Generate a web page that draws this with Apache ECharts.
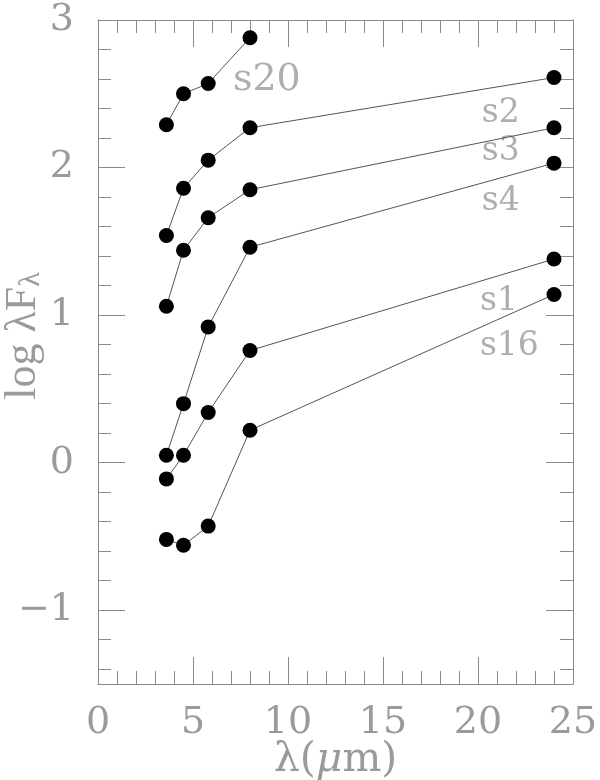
<!DOCTYPE html>
<html>
<head>
<meta charset="utf-8">
<script src="https://cdn.jsdelivr.net/npm/echarts@6/dist/echarts.min.js"></script>
<style>html,body{margin:0;padding:0;background:#fff}#c{width:600px;height:780px}</style>
</head>
<body>
<div id="c"></div>
<script>
// Wavelengths (micron)
const wavelengths = [3.6, 4.5, 5.8, 8.0, 24];
// log lambda F_lambda per source
const s20 = [2.29, 2.50, 2.57, 2.88, null];
const s2  = [1.54, 1.86, 2.05, 2.27, 2.61];
const s3  = [1.06, 1.44, 1.66, 1.85, 2.27];
const s4  = [0.05, 0.40, 0.92, 1.46, 2.03];
const s1  = [-0.11, 0.05, 0.34, 0.76, 1.38];
const s16 = [-0.52, -0.56, -0.43, 0.22, 1.14];
const seriesNames = ['s20', 's2', 's3', 's4', 's1', 's16'];
const seriesValues = [s20, s2, s3, s4, s1, s16];
// annotation anchors (data coords: left edge, vertical centre)
const labelNames = ['s20', 's2', 's3', 's4', 's1', 's16'];
const labelX = [7.1, 20.2, 20.2, 20.2, 20.1, 20.1];
const labelY = [2.59, 2.37, 2.11, 1.77, 1.09, 0.79];
// ticks
const yMajorTicks = [-1, 0, 1, 2, 3];
const yMinorTicks = [-1.4, -1.2, -0.8, -0.6, -0.4, -0.2, 0.2, 0.4, 0.6, 0.8, 1.2, 1.4, 1.6, 1.8, 2.2, 2.4, 2.6, 2.8];

const GRAY = '#8a8a8a';
const TXT = '#9a9a9a';
const FONT = 'DejaVu Serif';
const NAMEFONT = 'Liberation Serif';
const bigLabel = { s20: 38 };

function xAx(pos, showLabel) {
  return {
    type: 'value', position: pos, min: 0, max: 25, interval: 5,
    axisLine: { show: true, onZero: false, lineStyle: { color: GRAY, width: 1 } },
    axisTick: { show: true, inside: true, length: 27, lineStyle: { color: GRAY } },
    minorTick: { show: true, splitNumber: 5, length: 13, lineStyle: { color: GRAY } },
    splitLine: { show: false }, minorSplitLine: { show: false },
    axisLabel: { show: showLabel, color: TXT, fontFamily: FONT, fontSize: 38, margin: 20 },
    name: showLabel ? '{a|λ(}{i|μ}{a|m)}' : '',
    nameLocation: 'middle', nameGap: 56, nameMoveOverlap: false,
    nameTextStyle: { rich: {
      a: { fontFamily: FONT, fontSize: 41, color: TXT },
      i: { fontFamily: FONT, fontSize: 41, color: TXT, fontStyle: 'italic' }
    } }
  };
}
function yAx(pos, ticks, len, showLabel) {
  return {
    type: 'value', position: pos, min: -1.5, max: 3,
    axisLine: { show: true, onZero: false, lineStyle: { color: GRAY, width: 1 } },
    axisTick: { show: true, inside: true, length: len, customValues: ticks, lineStyle: { color: GRAY } },
    splitLine: { show: false },
    axisLabel: { show: showLabel, customValues: yMajorTicks, color: TXT, fontFamily: FONT, fontSize: 38, margin: 24,
      formatter: v => String(v).replace('-', '\u2212') },
    name: showLabel ? '{a|log λF}{s|λ}' : '',
    nameLocation: 'middle', nameGap: 52, nameRotate: 90, nameMoveOverlap: false,
    nameTextStyle: { padding: [0, 0, 0, 32], rich: {
      a: { fontFamily: NAMEFONT, fontSize: 44, color: TXT },
      s: { fontFamily: NAMEFONT, fontSize: 30, color: TXT, padding: [16, 0, 0, 0] }
    } }
  };
}

const series = seriesNames.map((n, k) => ({
  name: n, type: 'line', xAxisIndex: 0, yAxisIndex: 0,
  data: wavelengths.map((w, i) => [w, seriesValues[k][i]]).filter(p => p[1] !== null),
  symbol: 'circle', symbolSize: 15,
  itemStyle: { color: '#000' },
  lineStyle: { color: '#555', width: 1 },
  animation: false, z: 3
}));
series.push({
  name: 'labels', type: 'scatter', xAxisIndex: 0, yAxisIndex: 0,
  symbolSize: 0, silent: true, animation: false,
  data: labelNames.map((n, i) => ({ name: n, value: [labelX[i], labelY[i]],
    label: { fontSize: bigLabel[n] || 33 } })),
  label: { show: true, position: 'right', distance: 0, formatter: p => p.name,
    fontFamily: FONT, fontSize: 33, color: TXT }
});

const chart = echarts.init(document.getElementById('c'), null, { renderer: 'canvas' });
chart.setOption({
  backgroundColor: '#fff',
  animation: false,
  grid: { left: 98, right: 27, top: 20, bottom: 96, containLabel: false, outerBoundsMode: 'none' },
  xAxis: [xAx('bottom', true), xAx('top', false)],
  yAxis: [yAx('left', yMajorTicks, 27, true), yAx('left', yMinorTicks, 13, false),
          yAx('right', yMajorTicks, 27, false), yAx('right', yMinorTicks, 13, false)],
  series: series
});
</script>
</body>
</html>
